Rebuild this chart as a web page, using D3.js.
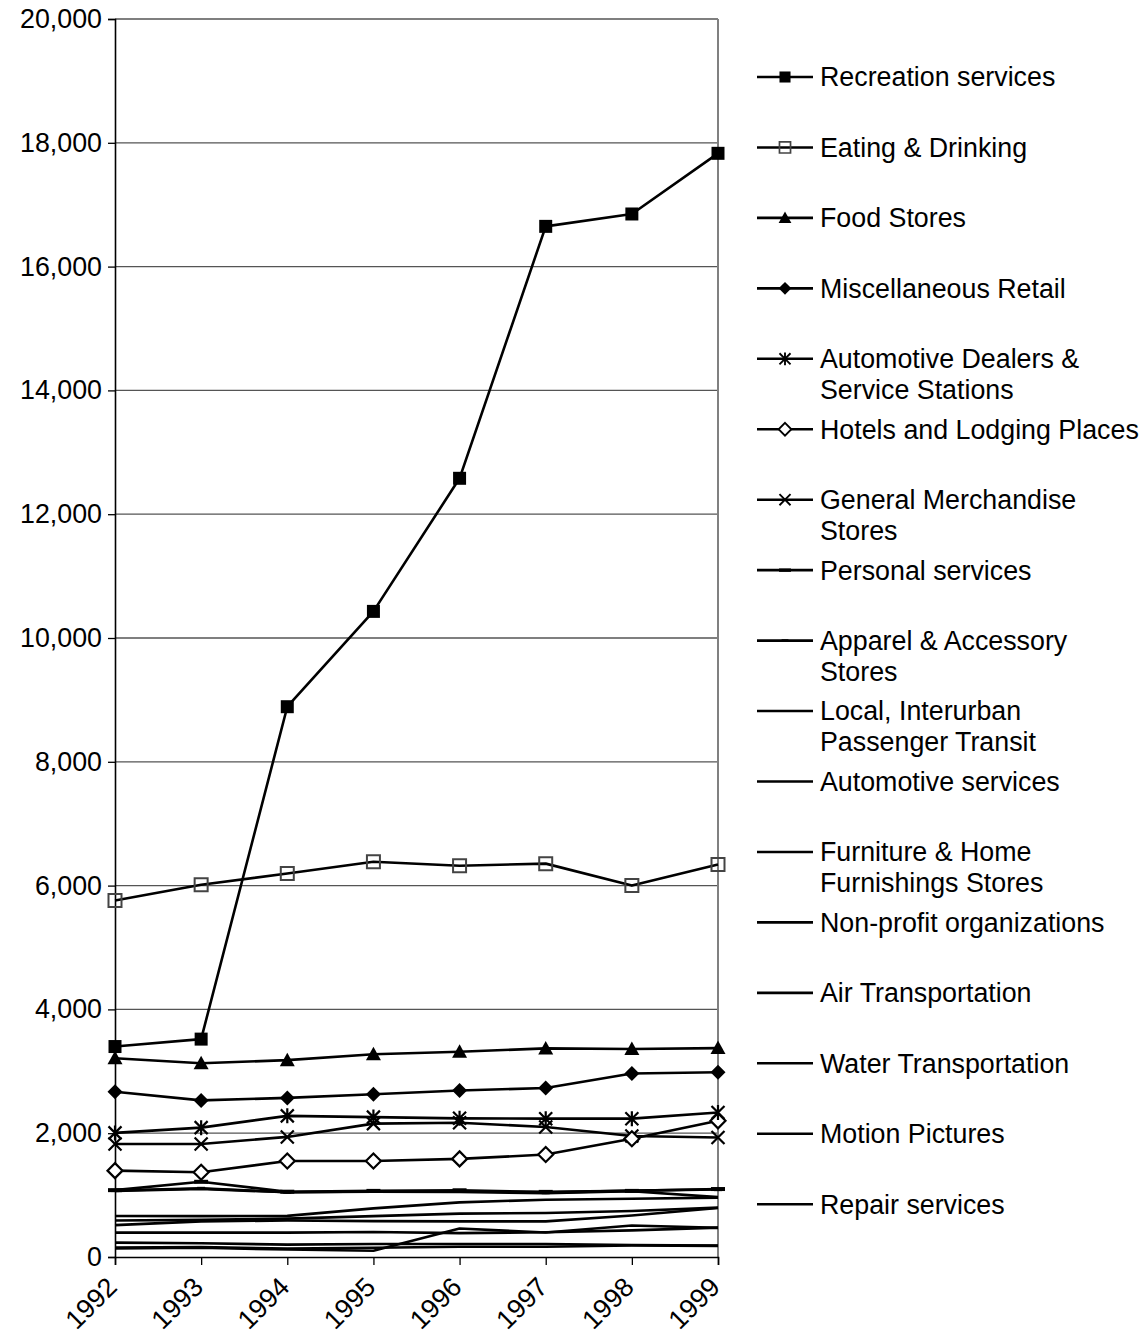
<!DOCTYPE html>
<html>
<head>
<meta charset="utf-8">
<script src="https://cdn.jsdelivr.net/npm/d3@7"></script>
<style>
  html, body { margin: 0; padding: 0; background: #fff; }
  svg { display: block; font-family: "Liberation Sans", Arial, sans-serif; }
</style>
</head>
<body>
<svg id="chart" width="1146" height="1342"></svg>
<script>
// Years on the category axis
const years = ["1992", "1993", "1994", "1995", "1996", "1997", "1998", "1999"];

// Value axis ticks
const yTicks = [0, 2000, 4000, 6000, 8000, 10000, 12000, 14000, 16000, 18000, 20000];

// Series names (legend order), wrapped as drawn in the legend
const seriesNames = [
  ["Recreation services"],
  ["Eating & Drinking"],
  ["Food Stores"],
  ["Miscellaneous Retail"],
  ["Automotive Dealers &", "Service Stations"],
  ["Hotels and Lodging Places"],
  ["General Merchandise", "Stores"],
  ["Personal services"],
  ["Apparel & Accessory", "Stores"],
  ["Local, Interurban", "Passenger Transit"],
  ["Automotive services"],
  ["Furniture & Home", "Furnishings Stores"],
  ["Non-profit organizations"],
  ["Air Transportation"],
  ["Water Transportation"],
  ["Motion Pictures"],
  ["Repair services"]
];

// Marker type for each series
const seriesMarkers = [
  "square", "openSquare", "triangle", "diamond", "asterisk", "openDiamond", "cross",
  "dash", "smallDash", "none", "none", "none", "none", "none", "none", "none", "none"
];

// Values per series, 1992-1999
const recreation    = [3400, 3520, 8890, 10430, 12580, 16650, 16850, 17830];
const eatingDrinking = [5760, 6015, 6195, 6385, 6320, 6355, 6000, 6340];
const foodStores    = [3210, 3130, 3180, 3275, 3315, 3370, 3360, 3375];
const miscRetail    = [2670, 2530, 2570, 2630, 2690, 2730, 2965, 2985];
const autoDealers   = [2005, 2090, 2280, 2260, 2240, 2235, 2235, 2335];
const hotels        = [1395, 1370, 1550, 1550, 1585, 1655, 1910, 2200];
const generalMerch  = [1825, 1825, 1940, 2155, 2170, 2100, 1955, 1930];
const personalSvc   = [1080, 1215, 1055, 1068, 1078, 1052, 1068, 1098];
const apparel       = [1075, 1108, 1048, 1060, 1062, 1040, 1072, 1090];
const localTransit  = [1068, 1100, 1045, 1055, 1050, 1032, 1062, 968];
const autoServices  = [662, 660, 665, 785, 883, 925, 940, 960];
const furniture     = [590, 600, 620, 660, 700, 711, 743, 797];
const nonProfit     = [515, 575, 590, 580, 575, 575, 670, 792];
const airTransport  = [393, 393, 393, 405, 385, 400, 430, 474];
const waterTransport = [140, 150, 120, 100, 460, 395, 510, 470];
const motionPictures = [232, 221, 200, 210, 210, 210, 194, 183];
const repairSvc     = [151, 160, 135, 150, 165, 165, 185, 180];

const seriesValues = [
  recreation, eatingDrinking, foodStores, miscRetail, autoDealers, hotels, generalMerch,
  personalSvc, apparel, localTransit, autoServices, furniture, nonProfit,
  airTransport, waterTransport, motionPictures, repairSvc
];

const svg = d3.select("#chart");
const plot = { left: 115, right: 718, top: 19, bottom: 1257 };

const x = d3.scalePoint().domain(years).range([plot.left, plot.right]).padding(0);
const y = d3.scaleLinear().domain([0, 20000]).range([plot.bottom, plot.top]);

const fontSize = 26.8;

// Horizontal gridlines
svg.append("g")
  .selectAll("line")
  .data(yTicks.filter(d => d > 0))
  .join("line")
  .attr("x1", plot.left).attr("x2", plot.right)
  .attr("y1", d => y(d)).attr("y2", d => y(d))
  .attr("stroke", "#555").attr("stroke-width", 1.3);

// Right border of the plot area
svg.append("line")
  .attr("x1", plot.right).attr("x2", plot.right)
  .attr("y1", plot.top).attr("y2", plot.bottom)
  .attr("stroke", "#808080").attr("stroke-width", 2);

// Value axis
const yAxis = d3.axisLeft(y)
  .tickValues(yTicks)
  .tickSize(7)
  .tickPadding(6)
  .tickFormat(d3.format(","));
const gy = svg.append("g").attr("transform", `translate(${plot.left},0)`).call(yAxis);
gy.select(".domain").attr("stroke", "#000").attr("stroke-width", 1.6);
gy.selectAll(".tick line").attr("stroke", "#000").attr("stroke-width", 1.3);
gy.selectAll(".tick text")
  .attr("font-size", fontSize)
  .attr("font-family", "Liberation Sans, Arial, sans-serif")
  .attr("fill", "#000");

// Category axis
const xAxis = d3.axisBottom(x).tickSize(8).tickFormat("");
const gx = svg.append("g").attr("transform", `translate(0,${plot.bottom})`).call(xAxis);
gx.select(".domain").attr("stroke", "#000").attr("stroke-width", 1.6);
gx.selectAll(".tick line").attr("stroke", "#000").attr("stroke-width", 1.3);

// Rotated year labels
svg.append("g")
  .selectAll("text")
  .data(years)
  .join("text")
  .attr("transform", d => `translate(${x(d) - 3},${plot.bottom + 25}) rotate(-45)`)
  .attr("text-anchor", "end")
  .attr("dy", "0.35em")
  .attr("font-size", fontSize)
  .attr("fill", "#000")
  .text(d => d);

// Marker shapes
function markerPath(type) {
  switch (type) {
    case "square": case "openSquare": return "M-6.5,-6.5H6.5V6.5H-6.5Z";
    case "triangle": return "M0,-7.5L7.5,6L-7.5,6Z";
    case "diamond": case "openDiamond": return "M0,-7.5L7.5,0L0,7.5L-7.5,0Z";
    case "asterisk": return "M-6.5,-6.5L6.5,6.5M-6.5,6.5L6.5,-6.5M0,-7.5V7.5";
    case "cross": return "M-6.5,-6.5L6.5,6.5M-6.5,6.5L6.5,-6.5";
    case "dash": return "M-7,-2H7V2H-7Z";
    case "smallDash": return "M-4,-1.6H4V1.6H-4Z";
    default: return null;
  }
}
function styleMarker(sel, type) {
  if (type === "openSquare") {
    sel.attr("fill", "none").attr("stroke", "#444").attr("stroke-width", 2);
  } else if (type === "openDiamond") {
    sel.attr("fill", "#fff").attr("stroke", "#000").attr("stroke-width", 2.2);
  } else if (type === "asterisk" || type === "cross") {
    sel.attr("fill", "none").attr("stroke", "#000").attr("stroke-width", 2.2);
  } else {
    sel.attr("fill", "#000").attr("stroke", "none");
  }
}

const line = d3.line().x((d, i) => x(years[i])).y(d => y(d));

// Lines, drawn from the smallest series up so the main series sit on top
const order = d3.range(seriesValues.length).reverse();
const seriesG = svg.append("g");
order.forEach(si => {
  const g = seriesG.append("g");
  g.append("path")
    .attr("d", line(seriesValues[si]))
    .attr("fill", "none")
    .attr("stroke", "#000")
    .attr("stroke-width", 2.6)
    .attr("stroke-linejoin", "round");
  const p = markerPath(seriesMarkers[si]);
  if (p) {
    const m = g.selectAll("path.m")
      .data(seriesValues[si])
      .join("path")
      .attr("class", "m")
      .attr("d", p)
      .attr("transform", (d, i) => `translate(${x(years[i])},${y(d)})`);
    styleMarker(m, seriesMarkers[si]);
  }
});

// Legend
const legend = svg.append("g");
const legendTop = 77, legendStep = 70.45, lineGap = 31;
seriesNames.forEach((lines, i) => {
  const cy = legendTop + i * legendStep;
  const g = legend.append("g").attr("transform", `translate(0,${cy})`);
  g.append("line")
    .attr("x1", 757).attr("x2", 813).attr("y1", 0).attr("y2", 0)
    .attr("stroke", "#000").attr("stroke-width", 2.6);
  const p = markerPath(seriesMarkers[i]);
  if (p) {
    const m = g.append("path").attr("d", p).attr("transform", "translate(785,0) scale(0.85)");
    styleMarker(m, seriesMarkers[i]);
  }
  lines.forEach((t, k) => {
    g.append("text")
      .attr("x", 820).attr("y", k * lineGap)
      .attr("dy", "0.35em")
      .attr("font-size", fontSize)
      .attr("fill", "#000")
      .text(t);
  });
});
</script>
</body>
</html>
